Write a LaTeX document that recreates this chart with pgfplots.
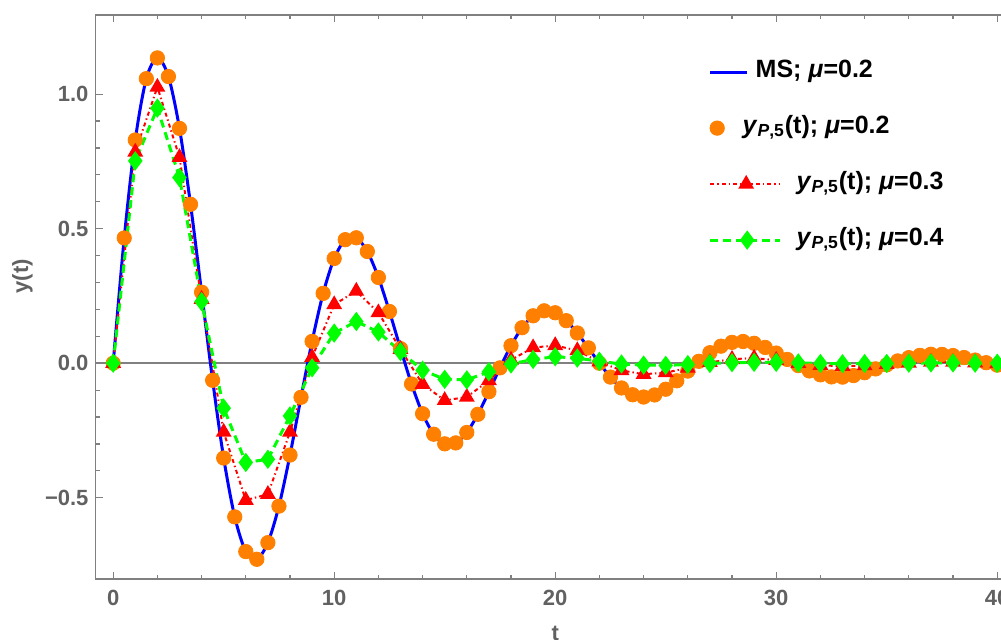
\documentclass[border=0pt]{standalone}
\usepackage{pgfplots}
\pgfplotsset{compat=1.18}
\usepackage{pgfplotstable}
\usepackage{fontspec}
\setmainfont{Liberation Sans}
\usetikzlibrary{calc}
\definecolor{mblue}{rgb}{0,0,1}
\definecolor{morange}{rgb}{1,0.5,0}
\definecolor{mred}{rgb}{1,0,0}
\definecolor{mgreen}{rgb}{0,1,0}
\definecolor{framegray}{gray}{0.5}
\definecolor{labelgray}{gray}{0.38}

\pgfplotstableread{
t y
0 0
0.5 0.4654
1 0.8296
1.5 1.0575
2 1.1345
2.5 1.0654
3 0.8726
3.5 0.5905
4 0.2639
4.5 -0.0636
5 -0.3525
5.5 -0.5711
6 -0.7000
6.5 -0.7287
7 -0.6669
7.5 -0.5311
8 -0.3413
8.5 -0.1266
9 0.0810
9.5 0.2595
10 0.3892
10.5 0.4590
11 0.4661
11.5 0.4152
12 0.3186
12.5 0.1922
13 0.0544
13.5 -0.0772
14 -0.1877
14.5 -0.2639
15 -0.2996
15.5 -0.2962
16 -0.2574
16.5 -0.1900
17 -0.1059
17.5 -0.0173
18 0.0652
18.5 0.1319
19 0.1762
19.5 0.1947
20 0.1875
20.5 0.1581
21 0.1123
21.5 0.0570
22 0.0000
22.5 -0.0516
23 -0.0920
23.5 -0.1172
24 -0.1257
24.5 -0.1180
25 -0.0967
25.5 -0.0654
26 -0.0292
26.5 0.0071
27 0.0391
27.5 0.0633
28 0.0774
28.5 0.0807
29 0.0739
29.5 0.0586
30 0.0377
30.5 0.0141
31 -0.0090
31.5 -0.0288
32 -0.0432
32.5 -0.0509
33 -0.0517
33.5 -0.0460
34 -0.0353
34.5 -0.0212
35 -0.0060
35.5 0.0085
36 0.0207
36.5 0.0291
37 0.0332
37.5 0.0328
38 0.0285
38.5 0.0211
39 0.0117
39.5 0.0019
40 -0.0072
}\mstable

\pgfplotstableread{
t y
0 0
1 0.785
2 1.026
3 0.765
4 0.238
5 -0.256
6 -0.509
7 -0.487
8 -0.256
9 0.022
10 0.218
11 0.268
12 0.188
13 0.052
14 -0.078
15 -0.138
16 -0.126
17 -0.064
18 0.012
19 0.058
20 0.066
21 0.047
22 0.005
23 -0.027
24 -0.041
25 -0.035
26 -0.018
27 0.003
28 0.015
29 0.019
30 0.011
31 0.000
32 -0.008
33 -0.011
34 -0.009
35 -0.004
36 0.001
37 0.004
38 0.004
39 0.002
40 -0.001
}\redtable

\pgfplotstableread{
t y
0 0
1 0.752
2 0.948
3 0.690
4 0.229
5 -0.167
6 -0.369
7 -0.357
8 -0.196
9 -0.017
10 0.112
11 0.155
12 0.116
13 0.043
14 -0.026
15 -0.060
16 -0.062
17 -0.032
18 -0.003
19 0.014
20 0.024
21 0.019
22 0.007
23 -0.003
24 -0.007
25 -0.008
26 -0.005
27 -0.001
28 0.002
29 0.003
30 0.003
31 0.001
32 -0.001
33 -0.002
34 -0.001
35 -0.001
36 0.000
37 0.001
38 0.001
39 0.000
40 0.000
}\greentable

\begin{document}
\begin{tikzpicture}
\begin{axis}[
  scale only axis,
  width=459.7pt, height=282pt,
  xmin=-0.8, xmax=40.8, ymin=-0.802, ymax=1.294,
  axis line style={framegray, line width=0.75pt},
  xtick={0,10,20,30,40}, xticklabels={0,10,20,30,40},
  ytick={-0.5,0,0.5,1}, yticklabels={−0.5,0.0,0.5,1.0},
  minor x tick num=4, minor y tick num=4,
  tick style={framegray, line width=0.6pt},
  major tick length=3.5pt, minor tick length=2pt,
  tick align=inside,
  tick label style={font=\fontsize{11}{13}\selectfont\bfseries, text=labelgray},
  x tick label style={yshift=-1.8pt},
  xlabel={t}, ylabel={y(t)},
  label style={font=\fontsize{11}{13}\selectfont\bfseries, text=labelgray},
  x label style={at={(axis description cs:0.5,-0.0957)}, anchor=center},
  y label style={at={(axis description cs:-0.0794,0.537)}, anchor=center},
  legend cell align=left,
  legend style={at={(axis description cs:0.6665,0.9225)}, anchor=north west,
    draw=none, fill=none, inner sep=0pt, row sep=15pt, column sep=7.5pt,
    nodes={inner sep=0pt, text height=9pt, text depth=4pt,
      font=\fontsize{12.5}{15}\selectfont\bfseries, text=black}},
]
\addplot[forget plot, framegray, line width=0.75pt] coordinates {(-1,0) (42,0)};

\addplot[mblue, line width=1.5pt, smooth, no markers,
  legend image code/.code={\draw[mblue, line width=1.5pt] (0pt,0pt) -- (18.5pt,0pt);}]
  table[x=t,y=y] {\mstable};
\addlegendentry{\hspace*{-20.5pt}MS; \textit{μ}=0.2}

\addplot[only marks, mark=*, mark size=3.6pt, color=morange, mark options={draw=morange, fill=morange},
  legend image code/.code={\fill[morange] (3.5pt,0pt) circle (3.6pt);}]
  table[x=t,y=y] {\mstable};
\addlegendentry{\hspace*{-27pt}\textit{y}\textsubscript{\textit{P},5}(t); \textit{μ}=0.2}

\addplot[mred, line width=1pt, dash pattern=on 2pt off 1.5pt on 0.7pt off 1.5pt,
  mark=triangle*, mark size=3.6pt, mark options={solid, fill=mred, draw=mred},
  legend image code/.code={
    \draw[mred, line width=1pt, dash pattern=on 2pt off 1.5pt on 0.7pt off 1.5pt] (0pt,0pt) -- (35pt,0pt);
    \draw[mred, solid] plot[mark=triangle*, mark size=3.6pt, mark options={fill=mred}] coordinates {(18pt,0pt)};}]
  table[x=t,y=y] {\redtable};
\addlegendentry{\textit{y}\textsubscript{\textit{P},5}(t); \textit{μ}=0.3}

\addplot[mgreen, line width=1.5pt, dash pattern=on 4pt off 2.5pt,
  mark=diamond*, mark size=3.6pt, mark options={solid, fill=mgreen, draw=mgreen},
  legend image code/.code={
    \draw[mgreen, line width=1.5pt, dash pattern=on 4pt off 2.5pt] (0pt,0pt) -- (35pt,0pt);
    \draw[mgreen, solid] plot[mark=diamond*, mark size=3.6pt, mark options={fill=mgreen}] coordinates {(18.5pt,0pt)};}]
  table[x=t,y=y] {\greentable};
\addlegendentry{\textit{y}\textsubscript{\textit{P},5}(t); \textit{μ}=0.4}
\end{axis}
\pgfresetboundingbox
\path ($(current axis.south west)+(-47.75pt,-30pt)$) rectangle ($(current axis.south west)+(452.75pt,289.5pt)$);
\end{tikzpicture}
\end{document}
